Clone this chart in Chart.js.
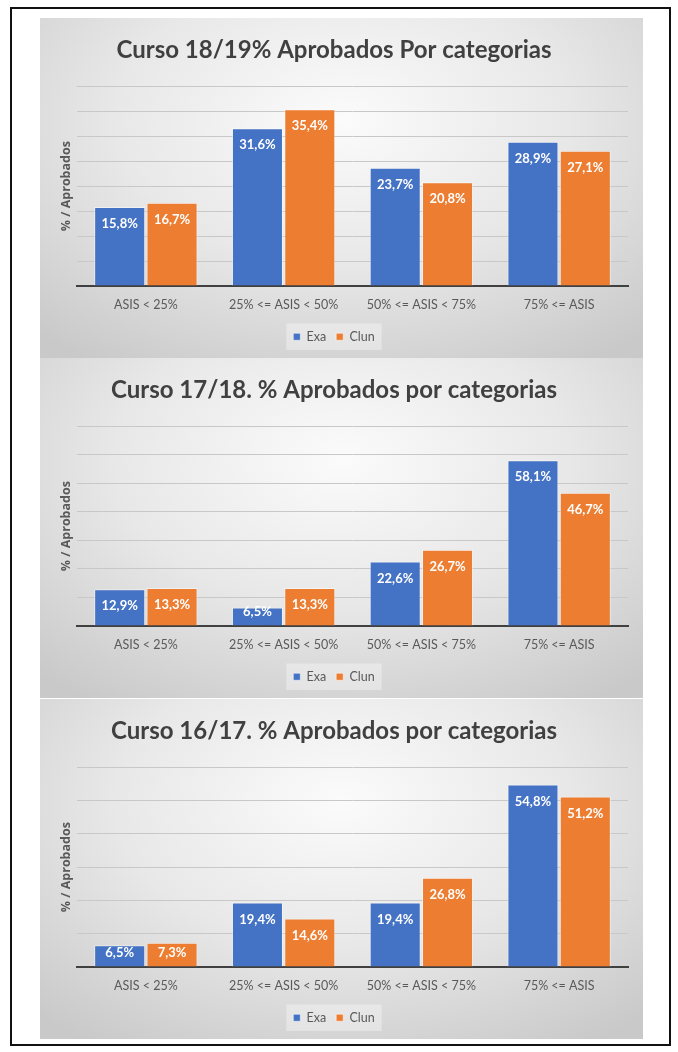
<!DOCTYPE html>
<html>
<head>
<meta charset="utf-8">
<script src="https://cdn.jsdelivr.net/npm/chart.js@4.4.1/dist/chart.umd.min.js"></script>
<style>
  body { margin: 0; background: #fff; }
  #frame { position: absolute; left: 10px; top: 7px; width: 657px; height: 1035px; border: 2px solid #111; }
  .panel {
    position: absolute; left: 40px; width: 603px; height: 340px;
    background: radial-gradient(ellipse 75% 85% at 50% 30%, #fbfbfb 0%, #e8e8e8 50%, #c9c9c9 100%);
  }
</style>
</head>
<body>
<div id="frame"></div>
<div class="panel" style="top:18px"><canvas id="c1"></canvas></div>
<div class="panel" style="top:358px"><canvas id="c2"></canvas></div>
<div class="panel" style="top:699px"><canvas id="c3"></canvas></div>
<script>
// datos de cada curso
const categorias = ['ASIS < 25%', '25% <= ASIS < 50%', '50% <= ASIS < 75%', '75% <= ASIS'];
const exa1819 = [15.8, 31.6, 23.7, 28.9];
const clun1819 = [16.7, 35.4, 20.8, 27.1];
const exa1718 = [12.9, 6.5, 22.6, 58.1];
const clun1718 = [13.3, 13.3, 26.7, 46.7];
const exa1617 = [6.5, 19.4, 19.4, 54.8];
const clun1617 = [7.3, 14.6, 26.8, 51.2];
const titulos = [
  'Curso 18/19% Aprobados Por categorias',
  'Curso 17/18. % Aprobados por categorias',
  'Curso 16/17. % Aprobados por categorias'
];
const yMax = [40, 70, 60];
const yStep = [5, 10, 10];

Chart.defaults.font.family = "Lato, 'Noto Sans', sans-serif";
Chart.defaults.color = '#595959';

// etiquetas blancas dentro de las barras
const etiquetas = {
  id: 'etiquetas',
  afterDatasetsDraw(chart) {
    const ctx = chart.ctx;
    const base = chart.scales.y.getPixelForValue(0);
    ctx.save();
    ctx.font = "bold 13px Lato, 'Noto Sans', sans-serif";
    ctx.fillStyle = '#fff';
    ctx.textAlign = 'center';
    ctx.textBaseline = 'middle';
    chart.data.datasets.forEach((ds, i) => {
      chart.getDatasetMeta(i).data.forEach((bar, j) => {
        let y = Math.min(bar.y + 17, base - 14);
        ctx.fillText(ds.data[j].toFixed(1).replace('.', ',') + '%', bar.x, y);
      });
    });
    ctx.restore();
  }
};

// fondo claro detras de la leyenda
const fondoLeyenda = {
  id: 'fondoLeyenda',
  beforeDraw(chart) {
    const boxes = chart.legend.legendHitBoxes;
    if (!boxes || !boxes.length) return;
    let l = boxes[0].left - 7;
    let r = boxes[boxes.length - 1].left + boxes[boxes.length - 1].width + 7;
    let t = boxes[0].top - 7;
    const ctx = chart.ctx;
    ctx.save();
    ctx.fillStyle = 'rgba(255,255,255,0.35)';
    ctx.fillRect(l, t, r - l, boxes[0].height + 14);
    ctx.restore();
  }
};

function crearGrafico(id, titulo, exa, clun, max, step) {
  const ctx = document.getElementById(id).getContext('2d');
  return new Chart(ctx, {
    type: 'bar',
    data: {
      labels: categorias,
      datasets: [
        { label: 'Exa', data: exa, backgroundColor: '#4472C4', borderColor: 'rgba(255,255,255,0.5)', borderWidth: 1 },
        { label: 'Clun', data: clun, backgroundColor: '#ED7D31', borderColor: 'rgba(255,255,255,0.5)', borderWidth: 1 }
      ]
    },
    options: {
      responsive: true,
      maintainAspectRatio: false,
      animation: false,
      layout: { padding: { left: 0, right: 15, top: 0, bottom: 5 } },
      datasets: { bar: { categoryPercentage: 0.76, barPercentage: 0.975 } },
      plugins: {
        title: {
          display: true,
          text: titulo,
          color: '#404040',
          font: { size: 24, weight: 'bold' },
          padding: { top: 18, bottom: 21.5 }
        },
        legend: {
          position: 'bottom',
          labels: { boxWidth: 7, boxHeight: 7, padding: 10, font: { size: 12.5 }, color: '#595959' }
        },
        tooltip: { enabled: false }
      },
      scales: {
        x: {
          grid: { display: false, drawTicks: false },
          border: { display: true, color: '#404040', width: 2 },
          ticks: { padding: 11.5, font: { size: 12.5 }, color: '#595959' },
          afterFit(scale) { scale.height -= 3.5; }
        },
        y: {
          min: 0,
          max: max,
          ticks: { display: false, stepSize: step },
          grid: { color: '#c8c8c8', drawTicks: false },
          border: { display: false },
          title: {
            display: true,
            text: '% / Aprobados',
            color: '#595959',
            font: { family: "'Open Sans', sans-serif", size: 12.5, weight: 'bold' },
            padding: { top: 19, bottom: 0 }
          },
          afterFit(scale) { scale.width = 37; }
        }
      }
    },
    plugins: [etiquetas, fondoLeyenda]
  });
}

crearGrafico('c1', titulos[0], exa1819, clun1819, yMax[0], yStep[0]);
crearGrafico('c2', titulos[1], exa1718, clun1718, yMax[1], yStep[1]);
crearGrafico('c3', titulos[2], exa1617, clun1617, yMax[2], yStep[2]);
</script>
</body>
</html>
